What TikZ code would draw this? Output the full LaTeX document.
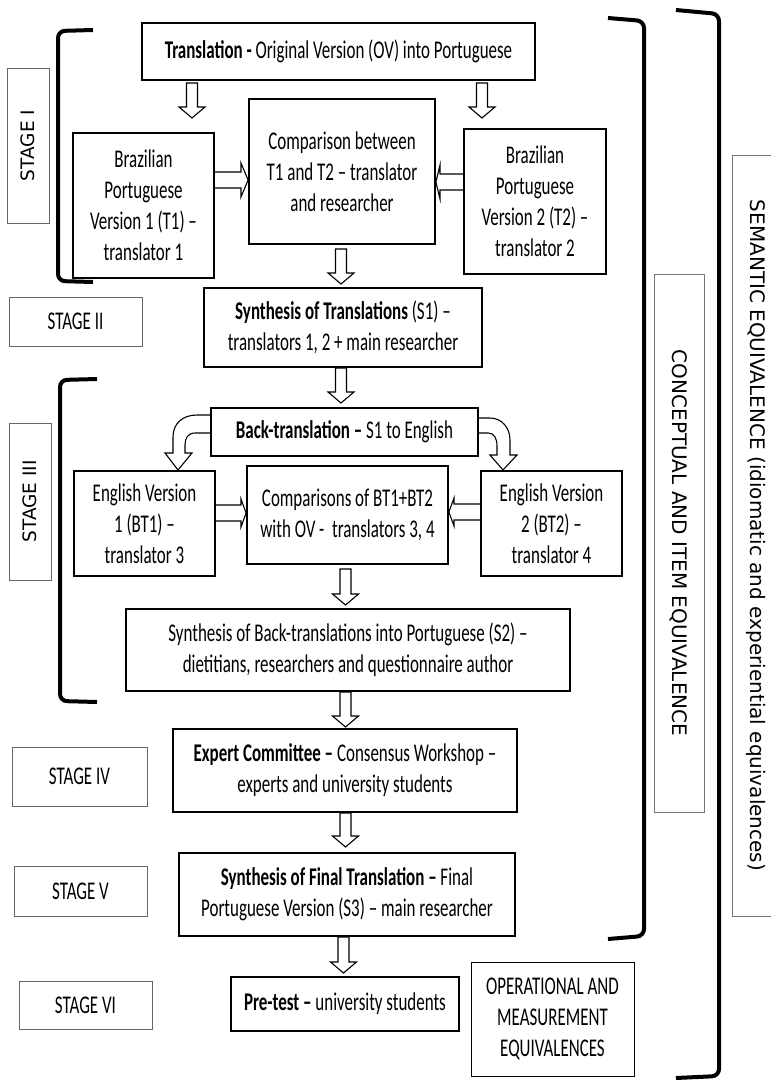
\documentclass[tikz,border=0pt]{standalone}
\usepackage{fontspec}
\setmainfont{Carlito}[FakeStretch=0.665]
\newfontfamily\capsans{DejaVu Sans}
\newcommand{\dnblk}[3]{% x, top y, tip y
  \draw[blk] (#1-5.5,#2) -- (#1+5.5,#2) -- (#1+5.5,#3-11) -- (#1+13,#3-11)
    -- (#1,#3) -- (#1-13,#3-11) -- (#1-5.5,#3-11) -- cycle;}
\begin{document}
\begin{tikzpicture}[x=1pt,y=-1pt,
  txt/.style={font=\fontsize{25.5}{31}\selectfont},
  flow/.style={txt, draw=black, line width=1.8pt, align=center, inner sep=0pt},
  stagebox/.style={txt, draw=black!60, line width=1pt, inner sep=0pt, align=center},
  vstage/.style={draw=black!60, line width=1pt, inner sep=0pt,
    font=\capsans\fontsize{18.5}{22}\selectfont},
  equiv/.style={draw=black!55, line width=0.9pt, inner sep=0pt,
    font=\capsans\fontsize{20}{24}\selectfont},
  blk/.style={draw=black, line width=1.1pt, line join=miter},
  brk/.style={draw=black, line width=4pt, rounded corners=7pt}]
\useasboundingbox (0,0) rectangle (771,1082);

% main flow boxes
\node[flow, minimum width=393, minimum height=57] (tr) at (338.5,51.5)
  {\textbf{Translation -} Original Version (OV) into Portuguese};
\node[flow, minimum width=141, minimum height=145] (t1) at (143.5,205.5)
  {Brazilian\\Portuguese\\Version 1 (T1) –\\translator 1};
\node[flow, minimum width=186, minimum height=145] (c1) at (342,171.5)
  {Comparison between\\T1 and T2 – translator\\and researcher};
\node[flow, minimum width=142, minimum height=145] (t2) at (535,201.5)
  {Brazilian\\Portuguese\\Version 2 (T2) –\\translator 2};
\node[flow, minimum width=278, minimum height=79] (s1) at (343,327.5)
  {\textbf{Synthesis of Translations} (S1) –\\translators 1, 2 + main researcher};
\node[flow, minimum width=267, minimum height=48] (bt) at (344.5,432)
  {\textbf{Back-translation –} S1 to English};
\node[flow, minimum width=141, minimum height=105] (bt1) at (144.5,523.5)
  {English Version\\1 (BT1) –\\translator 3};
\node[flow, minimum width=201, minimum height=98] (c2) at (347.5,515)
  {Comparisons of BT1+BT2\\with OV -\ \ translators 3, 4};
\node[flow, minimum width=141, minimum height=105] (bt2) at (551.5,523.5)
  {English Version\\2 (BT2) –\\translator 4};
\node[flow, minimum width=444, minimum height=82] (s2) at (348,650)
  {Synthesis of Back-translations into Portuguese (S2) –\\dietitians, researchers and questionnaire author};
\node[flow, minimum width=344, minimum height=83] (ec) at (345,770.5)
  {\textbf{Expert Committee –} Consensus Workshop –\\experts and university students};
\node[flow, minimum width=336, minimum height=83] (fin) at (347,894.5)
  {\textbf{Synthesis of Final Translation –} Final\\Portuguese Version (S3) – main researcher};
\node[flow, minimum width=228, minimum height=54] (pre) at (345,1004)
  {\textbf{Pre-test –} university students};
\node[flow, line width=1pt, minimum width=163, minimum height=114] (op) at (552.5,1019)
  {OPERATIONAL AND\\MEASUREMENT\\EQUIVALENCES};

% stage labels
\node[vstage, rotate=90, minimum width=155, minimum height=42] (st1) at (28,145.5) {STAGE I};
\node[stagebox, minimum width=133, minimum height=49] (st2) at (75.5,321.5) {STAGE II};
\node[vstage, rotate=90, minimum width=157, minimum height=42] (st3) at (30,501.5) {STAGE III};
\node[stagebox, minimum width=135, minimum height=59] (st4) at (79.5,776.5) {STAGE IV};
\node[stagebox, minimum width=133, minimum height=50] (st5) at (80.5,891) {STAGE V};
\node[stagebox, minimum width=133, minimum height=48] (st6) at (85.5,1005) {STAGE VI};

% equivalence labels
\node[equiv, rotate=-90, minimum width=538, minimum height=50] (conc) at (679,543)
  {CONCEPTUAL AND ITEM EQUIVALENCE};
\node[equiv, rotate=-90, minimum width=761, minimum height=48] (sem) at (756,535.5)
  {SEMANTIC EQUIVALENCE (idiomatic and experiential equivalences)};

% brackets
\draw[brk] (93,30) -- (58,31) -- (58,281) -- (93,282);
\draw[brk] (97,379) -- (60,380) -- (60,701) -- (97,702);
\draw[brk] (608,18) -- (644,21) -- (644,936) -- (608,939);
\draw[brk] (676,10) -- (719,14) -- (719,1076) -- (676,1078);

% block arrows
\dnblk{192}{83}{118}
\dnblk{482}{83}{118}
\dnblk{341}{249}{284}
\dnblk{341}{368}{403}
\dnblk{345.5}{569}{605}
\dnblk{345.5}{692}{727}
\dnblk{345.5}{813}{847}
\dnblk{343.5}{937}{973}

\draw[blk] (t1.east |- 0,172) -- (241,172) -- (241,163) -- (c1.west |- 0,180)
  -- (241,197) -- (241,188) -- (t1.east |- 0,188);
\draw[blk] (t2.west |- 0,174) -- (440,174) -- (440,165) -- (c1.east |- 0,182)
  -- (440,199) -- (440,190) -- (t2.west |- 0,190);
\draw[blk] (bt1.east |- 0,505) -- (241,505) -- (241,499) -- (c2.west |- 0,513)
  -- (241,527) -- (241,521) -- (bt1.east |- 0,521);
\draw[blk] (bt2.west |- 0,504) -- (454,504) -- (454,498) -- (c2.east |- 0,512)
  -- (454,526) -- (454,520) -- (bt2.west |- 0,520);

% curved arrows from the back-translation box
\draw[blk] (bt.west |- 0,415) -- (197,415) .. controls (182,415) and (173,424) .. (173,437)
  -- (173,453) -- (165,453) -- (178,470) -- (192,453) -- (185,453) -- (185,445)
  .. controls (185,438) and (188,433) .. (195,433) -- (bt.west |- 0,433);
\draw[blk] (bt.east |- 0,418) -- (490,418) .. controls (502,418) and (510,428) .. (510,440)
  -- (510,455) -- (517,455) -- (503,470) -- (490,455) -- (497,455) -- (497,446)
  .. controls (497,438) and (494,433) .. (488,433) -- (bt.east |- 0,433);
\end{tikzpicture}
\end{document}
